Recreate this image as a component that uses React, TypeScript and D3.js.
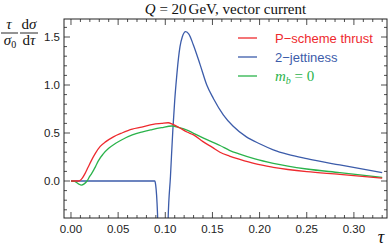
import React from "react";
import * as d3 from "d3";

const redTau = [0, 0.008, 0.0095, 0.012, 0.015, 0.018, 0.022, 0.026, 0.031, 0.037, 0.045, 0.054, 0.065, 0.075, 0.087, 0.096, 0.103, 0.108, 0.115, 0.123, 0.13, 0.14, 0.15, 0.158, 0.168, 0.179, 0.195, 0.2145, 0.23, 0.25, 0.285, 0.33];
const redVal = [0, 0, 0.005, 0.03, 0.08, 0.14, 0.22, 0.29, 0.36, 0.41, 0.46, 0.5, 0.54, 0.56, 0.59, 0.6, 0.607, 0.59, 0.555, 0.51, 0.48, 0.41, 0.35, 0.3, 0.26, 0.225, 0.18, 0.143, 0.12, 0.097, 0.07, 0.03];

const greenTau = [0, 0.004, 0.008, 0.011, 0.014, 0.017, 0.02, 0.022, 0.026, 0.029, 0.034, 0.04, 0.047, 0.054, 0.065, 0.075, 0.086, 0.096, 0.107, 0.115, 0.123, 0.13, 0.14, 0.15, 0.158, 0.168, 0.179, 0.195, 0.2145, 0.23, 0.25, 0.285, 0.33];
const greenVal = [0, -0.005, -0.03, -0.042, -0.03, 0, 0.05, 0.08, 0.15, 0.21, 0.28, 0.34, 0.39, 0.43, 0.48, 0.51, 0.535, 0.555, 0.573, 0.555, 0.53, 0.497, 0.45, 0.405, 0.37, 0.32, 0.28, 0.23, 0.184, 0.155, 0.125, 0.087, 0.038];

const blueTau = [0, 0.0888, 0.0898, 0.0908, 0.0918, 0.093, 0.095, 0.1, 0.102, 0.103, 0.1055, 0.108, 0.11, 0.112, 0.114, 0.1156, 0.118, 0.1216, 0.125, 0.1297, 0.137, 0.144, 0.151, 0.1615, 0.172, 0.186, 0.2, 0.2145, 0.23, 0.25, 0.285, 0.33];
const blueVal = [0, 0, -0.04, -0.15, -0.35, -0.7, -1.5, -1.5, -0.8, -0.4, 0.05, 0.53, 0.84, 1.08, 1.28, 1.4, 1.5, 1.555, 1.53, 1.42, 1.21, 1.0, 0.86, 0.69, 0.57, 0.46, 0.388, 0.325, 0.277, 0.232, 0.167, 0.087];

const xTicks = [0, 0.05, 0.1, 0.15, 0.2, 0.25, 0.3];
const xTickLabels = ["0.00", "0.05", "0.10", "0.15", "0.20", "0.25", "0.30"];
const yTicks = [0, 0.5, 1.0, 1.5];
const yTickLabels = ["0.0", "0.5", "1.0", "1.5"];

const legendLabels = ["P\u2212scheme thrust", "2\u2212jettiness"];

const RED = "#ee2a2e";
const BLUE = "#3c5caa";
const GREEN = "#2bb34b";

export default function App() {
  const L = 64, R = 387, T = 19, B = 218;
  const x = d3.scaleLinear().domain([-0.0074, 0.3351]).range([L, R]);
  const y = d3.scaleLinear().domain([-0.3854, 1.6875]).range([B, T]);
  const line = d3
    .line<[number, number]>()
    .x((d) => x(d[0]))
    .y((d) => y(d[1]))
    .curve(d3.curveMonotoneX);
  const zip = (a: number[], b: number[]) => a.map((t, i) => [t, b[i]] as [number, number]);

  const minorX: number[] = [];
  for (let i = 0; i <= 33; i++) if (i % 5 !== 0) minorX.push(i / 100);
  const minorY: number[] = [];
  for (let i = -3; i <= 16; i++) if (i % 5 !== 0) minorY.push(i / 10);

  const frameColor = "#222";
  const sans = "'Liberation Sans', Arial, sans-serif";
  const serif = "'Liberation Serif', 'Times New Roman', serif";

  return (
    <svg width={390} height={248} style={{ position: "absolute", left: 0, top: 0, background: "#fff" }}>
      <defs>
        <clipPath id="plotclip">
          <rect x={L} y={T} width={R - L} height={B - T} />
        </clipPath>
      </defs>
      {/* title */}
      <text x={(L + R) / 2} y={14} textAnchor="middle" fontFamily={serif} fontSize={15} fill="#111">
        <tspan fontStyle="italic">Q</tspan>
        <tspan> = 20</tspan>
        <tspan dx={2}>GeV, vector current</tspan>
      </text>
      {/* y label */}
      <g fontFamily={serif} fontSize={15} fill="#111" textAnchor="middle">
        <text x={9} y={29} fontStyle="italic">τ</text>
        <line x1={1} x2={18} y1={33} y2={33} stroke="#111" strokeWidth={0.9} />
        <text x={10} y={45}>
          <tspan fontStyle="italic">σ</tspan>
          <tspan fontSize={10} dy={3}>0</tspan>
        </text>
        <text x={29} y={29}>
          d<tspan fontStyle="italic">σ</tspan>
        </text>
        <line x1={20} x2={38} y1={33} y2={33} stroke="#111" strokeWidth={0.9} />
        <text x={29} y={45}>
          d<tspan fontStyle="italic">τ</tspan>
        </text>
      </g>
      {/* x label */}
      <text x={381} y={243} textAnchor="middle" fontFamily={serif} fontStyle="italic" fontSize={18} fill="#111">τ</text>

      {/* curves */}
      <g clipPath="url(#plotclip)" fill="none" strokeWidth={1.3} strokeLinejoin="round">
        <path d={line(zip(blueTau, blueVal)) || ""} stroke={BLUE} />
        <path d={line(zip(greenTau, greenVal)) || ""} stroke={GREEN} />
        <path d={line(zip(redTau, redVal)) || ""} stroke={RED} />
      </g>

      {/* frame */}
      <rect x={L} y={T} width={R - L} height={B - T} fill="none" stroke={frameColor} strokeWidth={1} />
      <g stroke={frameColor} strokeWidth={0.8}>
        {xTicks.map((t) => (
          <g key={"xt" + t}>
            <line x1={x(t)} x2={x(t)} y1={B} y2={B - 6} />
            <line x1={x(t)} x2={x(t)} y1={T} y2={T + 6} />
          </g>
        ))}
        {minorX.map((t) => (
          <g key={"xm" + t}>
            <line x1={x(t)} x2={x(t)} y1={B} y2={B - 3} />
            <line x1={x(t)} x2={x(t)} y1={T} y2={T + 3} />
          </g>
        ))}
        {yTicks.map((t) => (
          <g key={"yt" + t}>
            <line x1={L} x2={L + 6} y1={y(t)} y2={y(t)} />
            <line x1={R} x2={R - 6} y1={y(t)} y2={y(t)} />
          </g>
        ))}
        {minorY.map((t) => (
          <g key={"ym" + t}>
            <line x1={L} x2={L + 3} y1={y(t)} y2={y(t)} />
            <line x1={R} x2={R - 3} y1={y(t)} y2={y(t)} />
          </g>
        ))}
      </g>
      <g fontFamily={sans} fontSize={11.5} fill="#222">
        {xTicks.map((t, i) => (
          <text key={"xl" + t} x={x(t)} y={233} textAnchor="middle">{xTickLabels[i]}</text>
        ))}
        {yTicks.map((t, i) => (
          <text key={"yl" + t} x={60} y={y(t) + 4} textAnchor="end">{yTickLabels[i]}</text>
        ))}
      </g>

      {/* legend */}
      <g>
        <line x1={238} x2={257} y1={38} y2={38} stroke={RED} strokeWidth={1.3} />
        <text x={275} y={42.5} fontFamily={sans} fontSize={13} fill={RED}>{legendLabels[0]}</text>
        <line x1={238} x2={257} y1={57} y2={57} stroke={BLUE} strokeWidth={1.3} />
        <text x={275} y={61.5} fontFamily={sans} fontSize={13} fill={BLUE}>{legendLabels[1]}</text>
        <line x1={238} x2={257} y1={76} y2={76} stroke={GREEN} strokeWidth={1.3} />
        <text x={275} y={81} fontFamily={serif} fontSize={15} fill={GREEN}>
          <tspan fontStyle="italic">m</tspan>
          <tspan fontStyle="italic" fontSize={10} dy={3}>b</tspan>
          <tspan dy={-3}> = 0</tspan>
        </text>
      </g>
    </svg>
  );
}
